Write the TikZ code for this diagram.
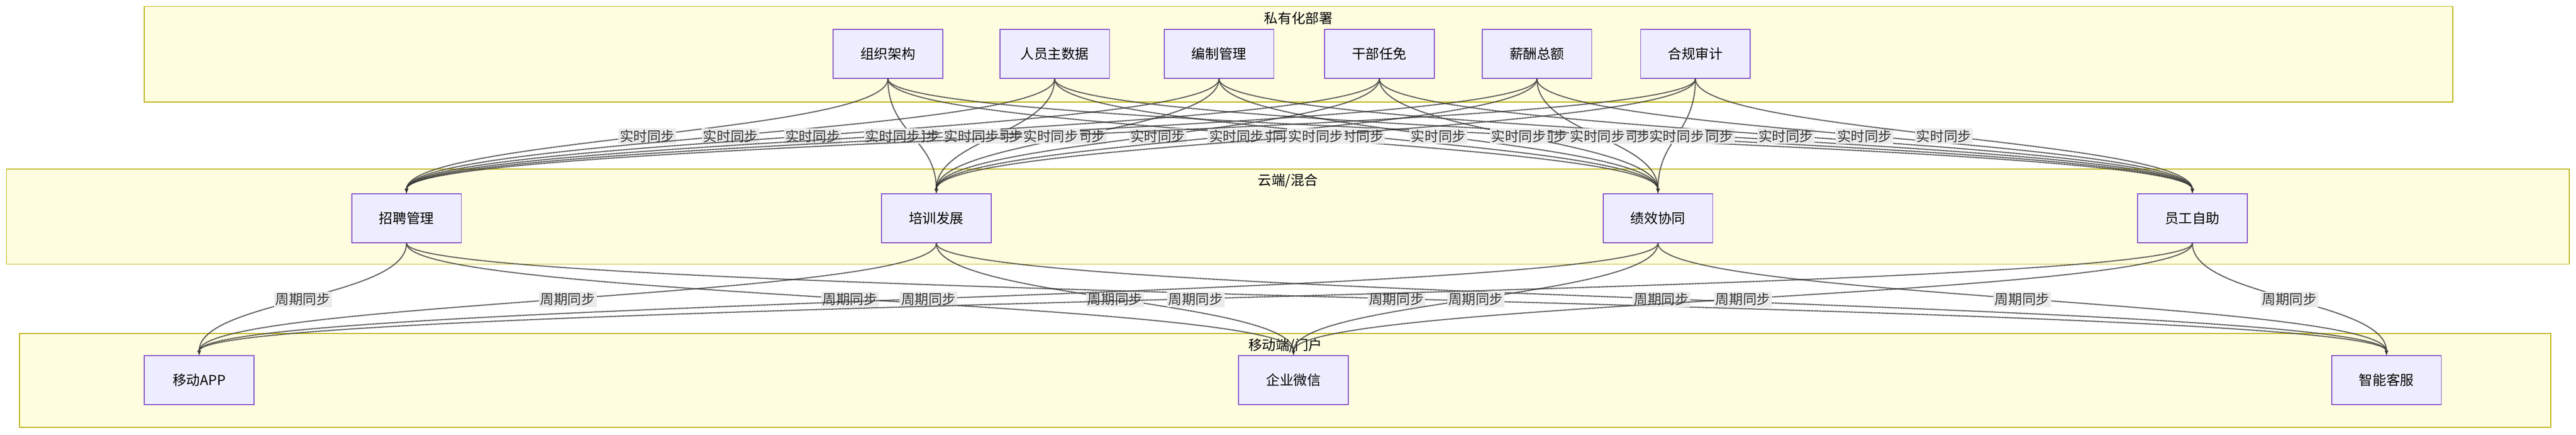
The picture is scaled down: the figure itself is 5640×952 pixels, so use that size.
\documentclass[tikz,border=0pt]{standalone}
\usepackage{fontspec}
\usetikzlibrary{calc}
\setmainfont{Noto Sans CJK SC}
\begin{document}
\begin{tikzpicture}[x=1pt,y=-1pt,
 n/.style={draw=violet!60!blue!70,fill=blue!7,line width=2pt,minimum width=240pt,minimum height=107pt,font=\fontsize{30}{36}\selectfont},
 cl/.style={draw=yellow!40!olive,fill=yellow!12,line width=2pt},
 ct/.style={font=\fontsize{30}{36}\selectfont},
 e/.style={densely dotted,line width=2.5pt,draw=black!80,-latex},
 lb/.style={fill=black!8,inner sep=3pt,font=\fontsize{30}{36}\selectfont,text=black!80}]
\useasboundingbox (0,0) rectangle (5640,952);
\draw[cl] (316,14) rectangle (5370,223); \node[ct] at (2843,40) {私有化部署};
\draw[cl] (14,370) rectangle (5625,578); \node[ct] at (2820,396) {云端/混合};
\draw[cl] (43,730) rectangle (5585,935); \node[ct] at (2814,756) {移动端/门户};
\node[n] (a1) at (1944,118) {组织架构};
\node[n] (a2) at (2309,118) {人员主数据};
\node[n] (a3) at (2669,118) {编制管理};
\node[n] (a4) at (3020,118) {干部任免};
\node[n] (a5) at (3365,118) {薪酬总额};
\node[n] (a6) at (3712,118) {合规审计};
\node[n] (b1) at (890,478) {招聘管理};
\node[n] (b2) at (2050,478) {培训发展};
\node[n] (b3) at (3630,478) {绩效协同};
\node[n] (b4) at (4800,478) {员工自助};
\node[n] (c1) at (436,832) {移动APP};
\node[n] (c2) at (2832,832) {企业微信};
\node[n] (c3) at (5225,832) {智能客服};
\foreach \s in {a1,a2,a3,a4,a5,a6}
 \foreach \t in {b1,b2,b3,b4}
  \draw[e] (\s.south) .. controls ($(\s.south)+(0,120)$) and ($(\t.north)+(0,-120)$) .. node[lb,pos=0.5]{实时同步} (\t.north);
\foreach \s in {b1,b2,b3,b4}
 \foreach \t in {c1,c2,c3}
  \draw[e] (\s.south) .. controls ($(\s.south)+(0,120)$) and ($(\t.north)+(0,-120)$) .. node[lb,pos=0.5]{周期同步} (\t.north);
\end{tikzpicture}
\end{document}
